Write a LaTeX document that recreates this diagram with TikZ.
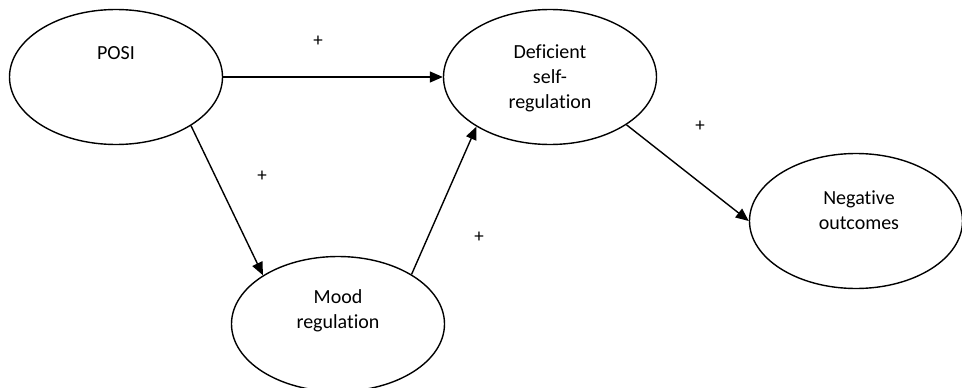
\documentclass[tikz,border=0pt]{standalone}
\usepackage{fontspec}
\setmainfont{Carlito}[Ligatures=NoCommon]
\usetikzlibrary{shapes.geometric,arrows.meta}

\tikzset{
  construct/.style={draw=black, line width=1.4pt, ellipse, inner sep=0pt,
    minimum width=213pt, minimum height=135pt},
  caption/.style={align=center, inner sep=0pt, font=\fontsize{20}{25}\selectfont},
  sign/.style={inner sep=0pt, font=\fontsize{19}{22}\selectfont},
  path/.style={draw=black, line width=1.4pt,
    -{Triangle[length=13pt,width=11pt]}}
}

\begin{document}
\begin{tikzpicture}[x=1pt,y=-1pt]
  \useasboundingbox (0,0) rectangle (962,388);

  % constructs of the model
  \node[construct] (posi) at (116,77) {};
  \node[construct] (dsr)  at (550,77) {};
  \node[construct] (neg)  at (856,221) {};
  \node[construct] (mood) at (338,324) {};

  \node[caption] (posiText) at (116,53) {POSI};
  \node[caption] (dsrText)  at (550,78) {Deficient\\self-\\regulation};
  \node[caption] (negText)  at (859,210) {Negative\\outcomes};
  \node[caption] (moodText) at (338,311) {Mood\\regulation};

  % hypothesised paths
  \draw[path] (posi.east) -- (dsr.west);
  \draw[path] (posi.-33) -- (mood.147);
  \draw[path] (mood.34) -- (dsr.-146);
  \draw[path] (dsr.-32) -- (neg.west);

  % signs of the effects
  \node[sign] (s1) at (318,41) {+};
  \node[sign] (s2) at (262,176) {+};
  \node[sign] (s3) at (479,237) {+};
  \node[sign] (s4) at (700,126) {+};
\end{tikzpicture}
\end{document}
